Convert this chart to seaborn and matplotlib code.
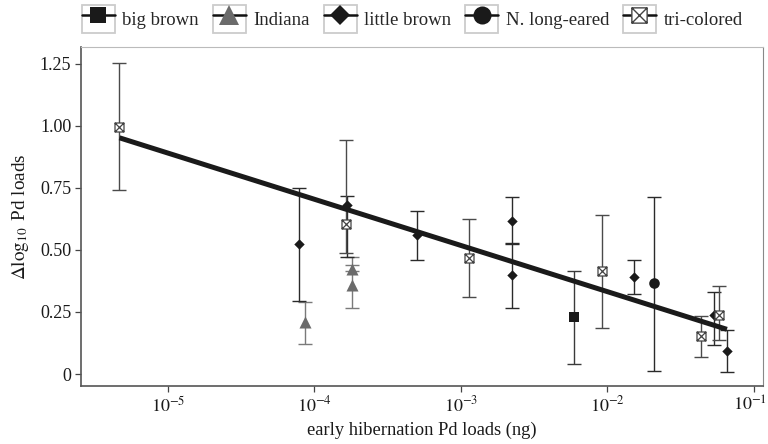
import numpy as np
import pandas as pd
import matplotlib
matplotlib.use("Agg")
import matplotlib.pyplot as plt
import matplotlib.transforms as mtransforms
import seaborn as sns
from matplotlib.lines import Line2D
from matplotlib.patches import Rectangle
from matplotlib.path import Path
from matplotlib.legend_handler import HandlerLine2D

# -------------------------------
# Data
# -------------------------------
species = ["tri-colored", "little brown", "Indiana", "little brown", "tri-colored",
           "Indiana", "Indiana", "little brown", "tri-colored", "little brown",
           "little brown", "big brown", "tri-colored", "little brown", "N. long-eared",
           "tri-colored", "little brown", "tri-colored", "little brown"]
early_load = [4.68e-6, 7.87e-5, 8.65e-5, 1.68e-4, 1.65e-4,
              1.80e-4, 1.80e-4, 5.01e-4, 1.13e-3, 2.23e-3,
              2.23e-3, 5.92e-3, 9.25e-3, 1.52e-2, 2.07e-2,
              4.39e-2, 5.31e-2, 5.83e-2, 6.55e-2]
delta_load = [0.996, 0.522, 0.208, 0.681, 0.603,
              0.425, 0.358, 0.560, 0.466, 0.617,
              0.399, 0.228, 0.416, 0.392, 0.365,
              0.153, 0.238, 0.238, 0.094]
lower_ci = [0.740, 0.295, 0.120, 0.472, 0.486,
            0.416, 0.268, 0.459, 0.309, 0.529,
            0.265, 0.040, 0.186, 0.322, 0.013,
            0.070, 0.117, 0.137, 0.009]
upper_ci = [1.254, 0.748, 0.291, 0.717, 0.942,
            0.439, 0.472, 0.658, 0.623, 0.712,
            0.524, 0.416, 0.640, 0.459, 0.712,
            0.234, 0.331, 0.354, 0.177]

fit_intercept = -0.040
fit_slope = -0.186   # per decade of early load

species_order = ["big brown", "Indiana", "little brown", "N. long-eared", "tri-colored"]
x_ticks = [1e-5, 1e-4, 1e-3, 1e-2, 1e-1]
x_tick_labels = [r"$10^{-5}$", r"$10^{-4}$", r"$10^{-3}$", r"$10^{-2}$", r"$10^{-1}$"]
y_ticks = [0, 0.25, 0.50, 0.75, 1.00, 1.25]
y_tick_labels = ["0", "0.25", "0.50", "0.75", "1.00", "1.25"]

df = pd.DataFrame({"species": species, "load": early_load, "delta": delta_load,
                   "lo": lower_ci, "hi": upper_ci})

# -------------------------------
# Styles
# -------------------------------
sns.set_style("white")
plt.rcParams["font.family"] = ["Liberation Serif", "DejaVu Serif"]
plt.rcParams["mathtext.fontset"] = "stix"

# square with an X inside (tri-colored)
boxx = Path([(-1, -1), (1, -1), (1, 1), (-1, 1), (-1, -1),
             (-1, -1), (1, 1), (-1, 1), (1, -1)],
            [Path.MOVETO, Path.LINETO, Path.LINETO, Path.LINETO, Path.CLOSEPOLY,
             Path.MOVETO, Path.LINETO, Path.MOVETO, Path.LINETO])

colors = {"big brown": "#1a1a1a", "Indiana": "#6b6b6b", "little brown": "#1a1a1a",
          "N. long-eared": "#1a1a1a", "tri-colored": "white"}
edge_colors = {"big brown": "#1a1a1a", "Indiana": "#6b6b6b", "little brown": "#1a1a1a",
               "N. long-eared": "#1a1a1a", "tri-colored": "#444444"}
bar_colors = {"big brown": "#3a3a3a", "Indiana": "#7a7a7a", "little brown": "#2a2a2a",
              "N. long-eared": "#2a2a2a", "tri-colored": "#4a4a4a"}
markers = {"big brown": "s", "Indiana": "^", "little brown": "D",
           "N. long-eared": "o", "tri-colored": boxx}
sizes = {"big brown": 45, "Indiana": 75, "little brown": 28,
         "N. long-eared": 58, "tri-colored": 42}
edge_w = {"big brown": 0, "Indiana": 0, "little brown": 0,
          "N. long-eared": 0, "tri-colored": 0.9}

fig, ax = plt.subplots(figsize=(7.68, 4.44), dpi=100)
fig.subplots_adjust(left=0.1055, right=0.993, bottom=0.1306, top=0.8948)

# error bars
for sp in species_order:
    sub = df[df["species"] == sp]
    ax.errorbar(sub["load"], sub["delta"],
                yerr=[sub["delta"] - sub["lo"], sub["hi"] - sub["delta"]],
                fmt="none", ecolor=bar_colors[sp], elinewidth=1.0,
                capsize=5, capthick=1.0, zorder=2)

# points
for sp in species_order:
    sub = df[df["species"] == sp]
    sns.scatterplot(data=sub, x="load", y="delta", marker=markers[sp],
                    color=colors[sp], edgecolor=edge_colors[sp], s=sizes[sp],
                    linewidth=edge_w[sp], ax=ax, zorder=3, legend=False)

# regression line
xs = np.array([df["load"].min(), df["load"].max()])
ax.plot(xs, fit_intercept + fit_slope * np.log10(xs), color="#1a1a1a",
        lw=3.6, solid_capstyle="butt", zorder=4)

ax.set_xscale("log")
ax.set_xlim(10 ** -5.592, 10 ** -0.94)
ax.set_ylim(-0.048, 1.318)
ax.set_xticks(x_ticks)
ax.set_xticklabels(x_tick_labels)
ax.minorticks_off()
ax.set_yticks(y_ticks)
ax.set_yticklabels(y_tick_labels)
ax.tick_params(axis="both", labelsize=13, colors="#444444", length=4, width=0.9,
               direction="out", left=True, bottom=True, pad=3)
ax.tick_params(axis="both", labelcolor="#1a1a1a")

# keep the last x tick label inside the figure
last = ax.get_xticklabels()[-1]
last.set_transform(last.get_transform() +
                   mtransforms.ScaledTranslation(-4 / 100, 0, fig.dpi_scale_trans))

ax.set_xlabel("early hibernation Pd loads (ng)", fontsize=13.3, color="#1a1a1a", labelpad=4)
ax.set_ylabel(r"$\Delta\log_{10}$ Pd loads", fontsize=13.8, color="#1a1a1a", labelpad=6)

for side in ["left", "bottom"]:
    ax.spines[side].set_color("#555555")
    ax.spines[side].set_linewidth(1.2)
ax.spines["top"].set_color("#bbbbbb")
ax.spines["right"].set_color("#888888")


# legend keys drawn inside light grey boxes
class BoxedHandler(HandlerLine2D):
    def create_artists(self, legend, orig_handle, xdescent, ydescent,
                       width, height, fontsize, trans):
        arts = super().create_artists(legend, orig_handle, xdescent, ydescent,
                                      width, height, fontsize, trans)
        box = Rectangle((-xdescent, -ydescent), width, height, facecolor="white",
                        edgecolor="#cccccc", lw=1.3, transform=trans)
        return [box] + arts


handles = []
for sp in species_order:
    ms = {"big brown": 11, "Indiana": 14, "little brown": 10,
          "N. long-eared": 13, "tri-colored": 11}[sp]
    handles.append(Line2D([], [], color="#111111", lw=1.8, marker=markers[sp],
                          markersize=ms, markerfacecolor=colors[sp],
                          markeredgecolor=edge_colors[sp],
                          markeredgewidth=1.0 if sp == "tri-colored" else 0))
leg = fig.legend(handles, species_order, loc="upper left", ncol=5,
                 bbox_to_anchor=(81 / 768, 0.99), frameon=False, fontsize=13.5,
                 handlelength=1.75, handleheight=1.85, columnspacing=0.75,
                 handletextpad=0.4, borderpad=0.05, borderaxespad=0,
                 handler_map={Line2D: BoxedHandler()})

plt.savefig("out.png", dpi=100)
plt.close()
